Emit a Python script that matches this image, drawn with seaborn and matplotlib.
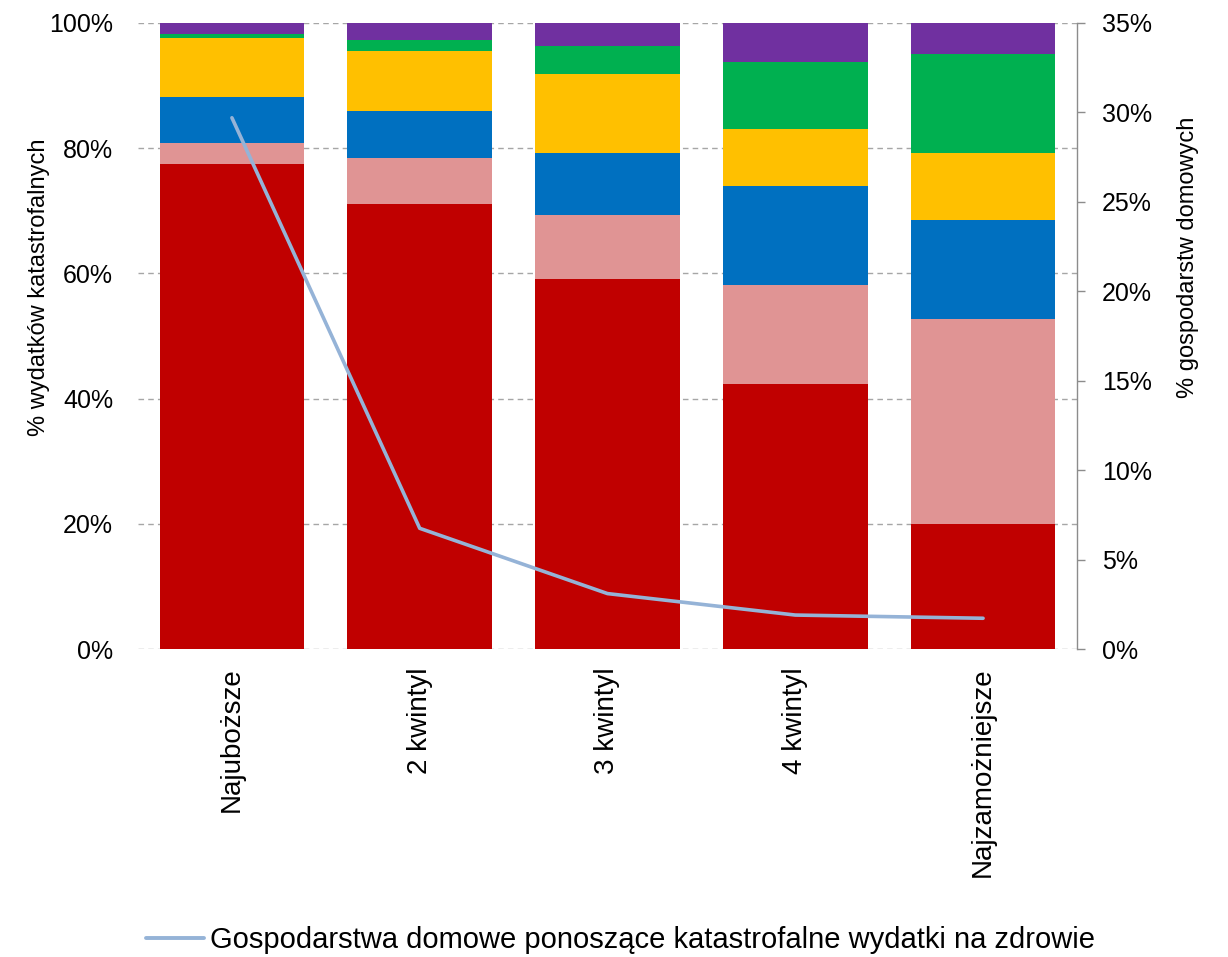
import numpy as np
import pandas as pd
import matplotlib
matplotlib.use("Agg")
import matplotlib.pyplot as plt
from matplotlib.ticker import PercentFormatter, MultipleLocator
from matplotlib.lines import Line2D
import seaborn as sns

# Income quintiles
categories = ["Najuboższe", "2 kwintyl", "3 kwintyl", "4 kwintyl", "Najzamożniejsze"]

# Structure of catastrophic health spending (% of total), bottom to top
seg_red = [77.4, 71.1, 59.1, 42.3, 20.0]
seg_pink = [3.5, 7.4, 10.3, 15.9, 32.7]
seg_blue = [7.2, 7.4, 9.8, 15.8, 15.8]
seg_yellow = [9.5, 9.6, 12.6, 9.0, 10.8]
seg_green = [0.6, 1.8, 4.5, 10.8, 15.7]
seg_purple = [1.8, 2.7, 3.7, 6.2, 5.0]

# Share of households with catastrophic health spending (%)
households_pct = [29.7, 6.75, 3.1, 1.9, 1.72]

line_label = "Gospodarstwa domowe ponoszące katastrofalne wydatki na zdrowie"
left_label = "% wydatków katastrofalnych"
right_label = "% gospodarstw domowych"

segments = [seg_red, seg_pink, seg_blue, seg_yellow, seg_green, seg_purple]
colors = ["#C00000", "#E09494", "#0070C0", "#FFC000", "#00B050", "#7030A0"]

sns.set_theme(style="white")
plt.rcParams["font.family"] = ["Liberation Sans", "DejaVu Sans"]

fig = plt.figure(figsize=(12.28, 9.57), dpi=100)
ax = fig.add_axes([0.1124, 0.3218, 0.7646, 0.6542])

# Stacked bars: draw cumulative totals from the top segment down
cum = np.cumsum(np.array(segments), axis=0)
for top, col in reversed(list(zip(cum, colors))):
    df = pd.DataFrame({"cat": categories, "val": top})
    sns.barplot(data=df, x="cat", y="val", color=col, width=0.77,
                saturation=1, linewidth=0, ax=ax, zorder=2)

ax.set_xlim(-0.5, len(categories) - 0.5)
ax.set_ylim(0, 100)
ax.yaxis.set_major_locator(MultipleLocator(20))
ax.yaxis.set_major_formatter(PercentFormatter(decimals=0))
ax.grid(axis="y", color="#A6A6A6", linestyle=(0, (4, 3)), linewidth=1.0, zorder=0)
ax.set_axisbelow(True)
for s in ax.spines.values():
    s.set_visible(False)
ax.tick_params(axis="y", length=0, pad=18, labelsize=18, colors="black")
ax.tick_params(axis="x", length=0, pad=13, labelsize=20, colors="black")
ax.set_xticks(range(len(categories)))
ax.set_xticklabels(categories, rotation=90, va="top", ha="center")
ax.set_xlabel("")
ax.set_ylabel(left_label, fontsize=17, color="black")
ax.yaxis.set_label_coords(-0.094, 0.578)

# Secondary axis with the household share line
ax2 = ax.twinx()
sns.lineplot(x=np.arange(len(categories)), y=households_pct, ax=ax2,
             color="#95B3D7", linewidth=2.6, zorder=5)
ax2.set_ylim(0, 35)
ax2.yaxis.set_major_locator(MultipleLocator(5))
ax2.yaxis.set_major_formatter(PercentFormatter(decimals=0))
for name, s in ax2.spines.items():
    s.set_visible(name == "right")
ax2.spines["right"].set_color("#8C8C8C")
ax2.spines["right"].set_linewidth(1.0)
ax2.tick_params(axis="y", length=6, width=1.0, color="#8C8C8C", pad=12,
                labelsize=18, labelcolor="black", direction="out")
ax2.set_ylabel(right_label, fontsize=17, color="black")
ax2.yaxis.set_label_coords(1.107, 0.625)
ax2.grid(False)

handle = Line2D([0], [0], color="#95B3D7", linewidth=2.8)
fig.legend([handle], [line_label], loc="center", bbox_to_anchor=(0.505, 0.018),
           frameon=False, fontsize=21, handlelength=2.0, handletextpad=0.2,
           borderaxespad=0, labelcolor="black")

fig.savefig("out.png", dpi=100)
